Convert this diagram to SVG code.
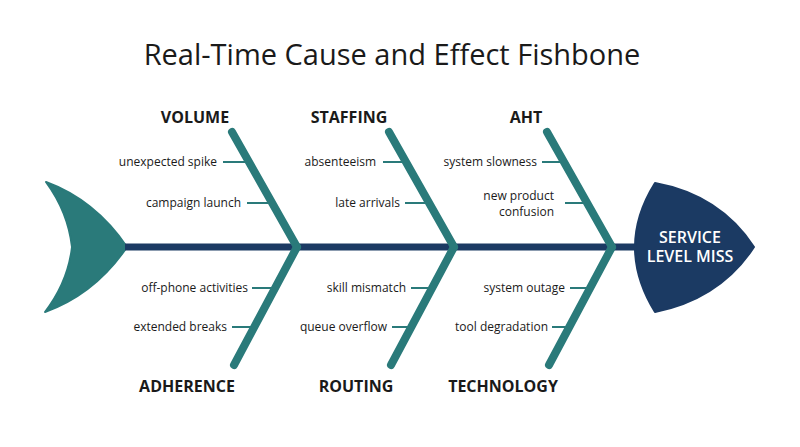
<svg xmlns="http://www.w3.org/2000/svg" width="800" height="447" viewBox="0 0 800 447">
<style>
.title{font-family:"Open Sans","Noto Sans",sans-serif;font-size:29px;fill:#1a1a1a;text-anchor:middle}
.cat{font-family:"Open Sans","Noto Sans",sans-serif;font-size:16px;font-weight:700;fill:#1a1a1a;text-anchor:middle}
.cause{font-family:"Open Sans","Noto Sans",sans-serif;font-size:12px;fill:#1a1a1a;text-anchor:end}
.head{font-family:"Open Sans","Noto Sans",sans-serif;font-size:16px;font-weight:600;fill:#ffffff;text-anchor:middle}
.bone{stroke:#2a7a7a;stroke-width:8;stroke-linecap:round;fill:none}
.tick{stroke:#2a7a7a;stroke-width:2;fill:none}
</style>
<rect width="800" height="447" fill="#ffffff"/>
<text class="title" x="392" y="65">Real-Time Cause and Effect Fishbone</text>
<g id="tail">
<path d="M46,182 Q95,200 127,247 Q95,294 45,312 Q68,282 72,247 Q68,212 46,182 Z" fill="#2a7a7a" stroke="#2a7a7a" stroke-width="2" stroke-linejoin="round"/>
</g>
<g id="connectors">
<line x1="125" y1="247" x2="645" y2="247" stroke="#1b3a63" stroke-width="7"/>
<line class="bone" x1="232" y1="132" x2="297" y2="247"/>
<line class="bone" x1="389" y1="132" x2="454" y2="247"/>
<line class="bone" x1="547" y1="132" x2="612" y2="247"/>
<line class="bone" x1="297" y1="247" x2="234" y2="365"/>
<line class="bone" x1="454" y1="247" x2="391" y2="365"/>
<line class="bone" x1="612" y1="247" x2="549" y2="365"/>
<line class="tick" x1="223" y1="162" x2="249" y2="162"/>
<line class="tick" x1="247" y1="203" x2="272" y2="203"/>
<line class="tick" x1="383" y1="162" x2="406" y2="162"/>
<line class="tick" x1="405" y1="203" x2="429" y2="203"/>
<line class="tick" x1="542" y1="162" x2="564" y2="162"/>
<line class="tick" x1="565" y1="203" x2="587" y2="203"/>
<line class="tick" x1="252" y1="288" x2="275" y2="288"/>
<line class="tick" x1="232" y1="327" x2="255" y2="327"/>
<line class="tick" x1="411" y1="288" x2="432" y2="288"/>
<line class="tick" x1="392" y1="327" x2="412" y2="327"/>
<line class="tick" x1="570" y1="288" x2="590" y2="288"/>
<line class="tick" x1="552" y1="327" x2="570" y2="327"/>
</g>
<g id="head">
<path d="M655,183 Q720,195 754,247 Q720,299 655,312 Q615,247 655,183 Z" fill="#1b3a63" stroke="#1b3a63" stroke-width="2" stroke-linejoin="round"/>
<text class="head" x="690" y="243">SERVICE</text>
<text class="head" x="690" y="262">LEVEL MISS</text>
</g>
<g id="volume">
<text class="cat" x="195" y="123">VOLUME</text>
<text class="cause" x="217" y="166">unexpected spike</text>
<text class="cause" x="241" y="207">campaign launch</text>
</g>
<g id="staffing">
<text class="cat" x="349" y="123">STAFFING</text>
<text class="cause" x="376" y="166">absenteeism</text>
<text class="cause" x="400" y="207">late arrivals</text>
</g>
<g id="aht">
<text class="cat" x="526" y="123">AHT</text>
<text class="cause" x="537" y="166">system slowness</text>
<text class="cause" x="554" y="200">new product</text>
<text class="cause" x="554" y="216">confusion</text>
</g>
<g id="adherence">
<text class="cat" x="187" y="392">ADHERENCE</text>
<text class="cause" x="248" y="292">off-phone activities</text>
<text class="cause" x="227" y="331">extended breaks</text>
</g>
<g id="routing">
<text class="cat" x="356" y="392">ROUTING</text>
<text class="cause" x="406" y="292">skill mismatch</text>
<text class="cause" x="387" y="331">queue overflow</text>
</g>
<g id="technology">
<text class="cat" x="503" y="392">TECHNOLOGY</text>
<text class="cause" x="565" y="292">system outage</text>
<text class="cause" x="548" y="331">tool degradation</text>
</g>
</svg>
